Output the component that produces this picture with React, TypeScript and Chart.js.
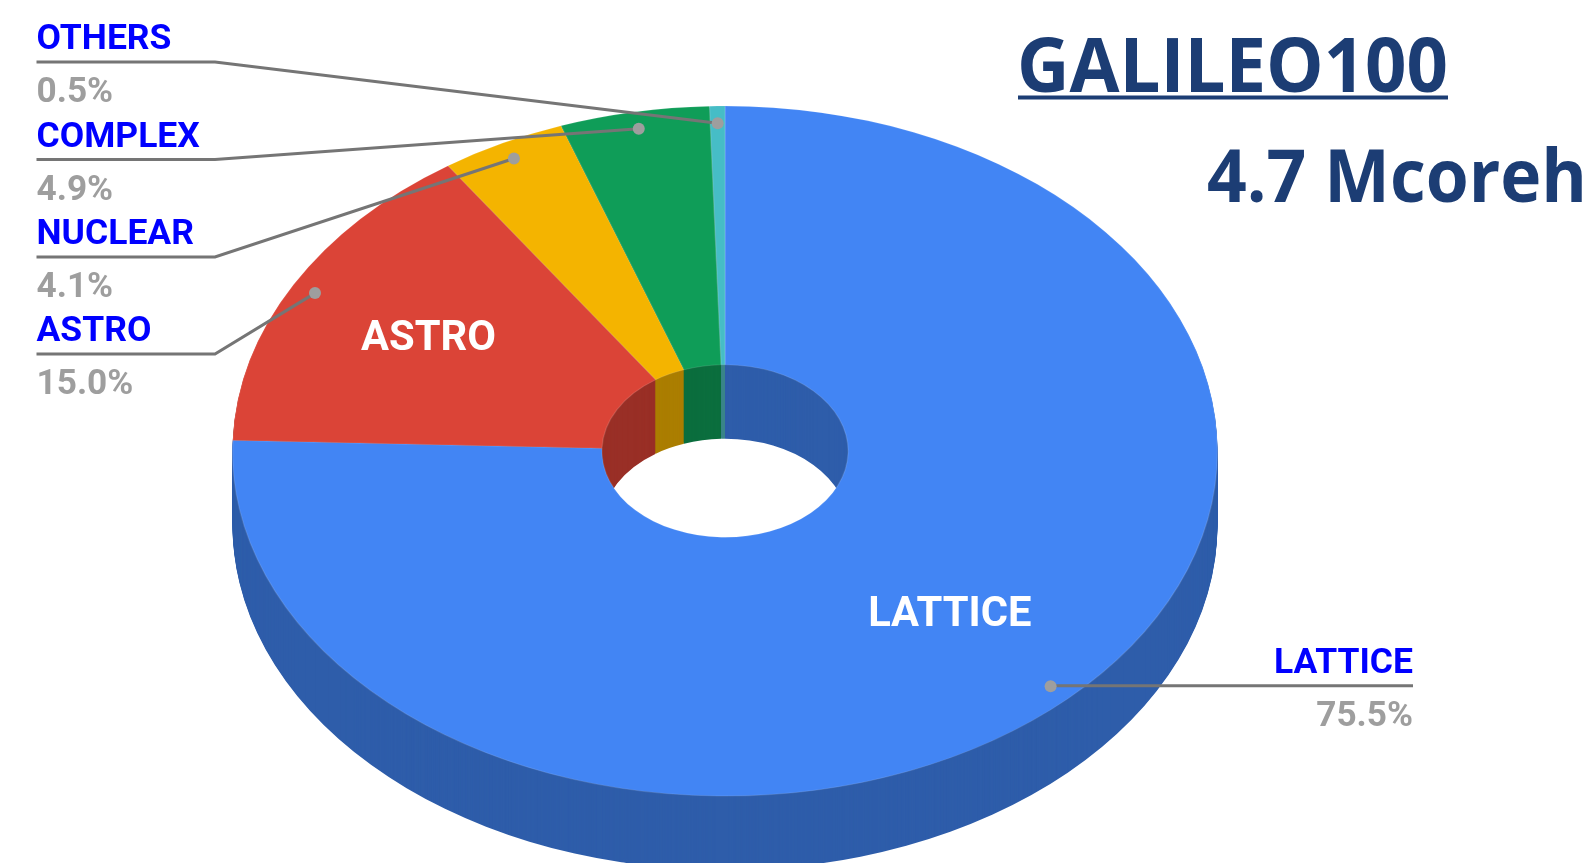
import React, { useEffect, useRef } from "react";
import { Chart, registerables } from "chart.js";

Chart.register(...registerables);

// Allocation shares per research area, in percent.
const categories = ["LATTICE", "ASTRO", "NUCLEAR", "COMPLEX", "OTHERS"];
const shares = [75.5, 15.0, 4.1, 4.9, 0.5];
const shareLabels = ["75.5%", "15.0%", "4.1%", "4.9%", "0.5%"];
const faceColors = ["#4285F4", "#DB4437", "#F4B400", "#0F9D58", "#46BDC6"];
const wallColors = ["#2E5DAA", "#992F26", "#AB7E00", "#0B6E3E", "#3A8489"];

const WIDTH = 1592;
const HEIGHT = 863;
const CENTER_X = 725;
const CENTER_Y = 451;
const RADIUS_Y = 345;
const STRETCH_X = 492.5 / 345;
const DEPTH = 74;

const LINE_COLOR = "#757575";
const DOT_COLOR = "#9E9E9E";
const NAME_COLOR = "#0000FF";
const TITLE_COLOR = "#1C3D74";
const EDGE_COLOR = "rgba(255,255,255,0.12)";
const NAME_FONT = "bold 35.5px Roboto";
const SHARE_FONT = "bold 35.2px Roboto";
const INNER_FONT = "bold 41.7px Roboto";
const TITLE_FONT = "bold 75px 'Open Sans'";
const SUBTITLE_FONT = "bold 74px 'Open Sans'";

// Horizontal part of each leader on the left, by category index.
const leaderY: Record<number, number> = { 1: 354, 2: 257, 3: 159.5, 4: 62 };
const LEADER_LEFT = 36.5;
const LEADER_ELBOW = 215;
const LATTICE_RIGHT = 1413;
const DOT_FRACTION = 0.95;
// Radial position of the labels written on the large slices.
const innerLabelFraction: Record<number, number> = { 0: 0.656, 1: 0.687 };

function project(ctx: CanvasRenderingContext2D, lift: number) {
  ctx.translate(CENTER_X, CENTER_Y + lift);
  ctx.scale(STRETCH_X, 1);
  ctx.translate(-CENTER_X, -CENTER_Y);
}

function polar(mid: number, radius: number) {
  return {
    x: CENTER_X + Math.cos(mid) * radius * STRETCH_X,
    y: CENTER_Y + Math.sin(mid) * radius,
  };
}

// Tilts the ring and extrudes its slices downward before the top face is painted.
const tiltedRing = {
  id: "tiltedRing",
  beforeDatasetsDraw(chart: any) {
    const ctx = chart.ctx as CanvasRenderingContext2D;
    const arcs = chart.getDatasetMeta(0).data;
    for (let lift = DEPTH; lift >= 1; lift--) {
      ctx.save();
      project(ctx, lift);
      arcs.forEach((arc: any, i: number) => {
        const own = arc.options;
        arc.options = { ...own, backgroundColor: wallColors[i], borderWidth: 0 };
        arc.draw(ctx);
        arc.options = own;
      });
      ctx.restore();
    }
    ctx.save();
    project(ctx, 0);
  },
  afterDatasetsDraw(chart: any) {
    const ctx = chart.ctx as CanvasRenderingContext2D;
    ctx.restore();
    const arcs = chart.getDatasetMeta(0).data;
    const midAngle = (arc: any) => (arc.startAngle + arc.endAngle) / 2;

    ctx.save();
    arcs.forEach((arc: any, i: number) => {
      const dot = polar(midAngle(arc), arc.outerRadius * DOT_FRACTION);
      const lineY = i === 0 ? dot.y - 0.7 : leaderY[i];
      ctx.strokeStyle = LINE_COLOR;
      ctx.lineWidth = 3;
      ctx.beginPath();
      if (i === 0) {
        ctx.moveTo(dot.x, lineY);
        ctx.lineTo(LATTICE_RIGHT, lineY);
      } else {
        ctx.moveTo(LEADER_LEFT, lineY);
        ctx.lineTo(LEADER_ELBOW, lineY);
        ctx.lineTo(dot.x, dot.y);
      }
      ctx.stroke();
      ctx.fillStyle = DOT_COLOR;
      ctx.beginPath();
      ctx.arc(dot.x, dot.y, 6, 0, Math.PI * 2);
      ctx.fill();

      const textX = i === 0 ? LATTICE_RIGHT : LEADER_LEFT;
      ctx.textAlign = i === 0 ? "right" : "left";
      ctx.textBaseline = "alphabetic";
      ctx.font = NAME_FONT;
      ctx.fillStyle = NAME_COLOR;
      ctx.fillText(categories[i], textX, lineY - 13);
      ctx.font = SHARE_FONT;
      ctx.fillStyle = DOT_COLOR;
      ctx.fillText(shareLabels[i], textX, lineY + 40);

      const fraction = innerLabelFraction[i];
      if (fraction !== undefined) {
        const at = polar(midAngle(arc), arc.outerRadius * fraction);
        ctx.font = INNER_FONT;
        ctx.fillStyle = "#FFFFFF";
        ctx.textAlign = "center";
        ctx.textBaseline = "middle";
        ctx.fillText(categories[i], at.x, at.y + 2.5);
      }
    });

    ctx.fillStyle = TITLE_COLOR;
    ctx.textAlign = "left";
    ctx.textBaseline = "alphabetic";
    ctx.font = TITLE_FONT;
    ctx.fillText("GALILEO100", 1017, 92, 431);
    ctx.fillRect(1018, 95.5, 430, 4);
    ctx.font = SUBTITLE_FONT;
    ctx.fillText("4.7 Mcoreh", 1207, 202.3, 380);
    ctx.restore();
  },
};

export default function App() {
  const ref = useRef<HTMLCanvasElement>(null);

  useEffect(() => {
    document.body.style.margin = "0";
    document.body.style.overflow = "hidden";
    const chart = new Chart(ref.current!, {
      type: "doughnut",
      data: {
        labels: categories,
        datasets: [
          {
            data: shares,
            backgroundColor: faceColors,
            borderColor: EDGE_COLOR,
            borderWidth: 1,
            clip: false,
          } as any,
        ],
      },
      options: {
        responsive: false,
        animation: false,
        events: [],
        cutout: "25%",
        layout: {
          padding: {
            left: 0,
            right: WIDTH - 2 * CENTER_X,
            top: CENTER_Y - RADIUS_Y - 0.5,
            bottom: HEIGHT - CENTER_Y - RADIUS_Y - 0.5,
          },
        },
        plugins: { legend: { display: false }, tooltip: { enabled: false } },
      },
      plugins: [tiltedRing],
    });
    return () => chart.destroy();
  }, []);

  return (
    <canvas
      ref={ref}
      width={WIDTH}
      height={HEIGHT}
      style={{ display: "block", width: WIDTH, height: HEIGHT }}
    />
  );
}
